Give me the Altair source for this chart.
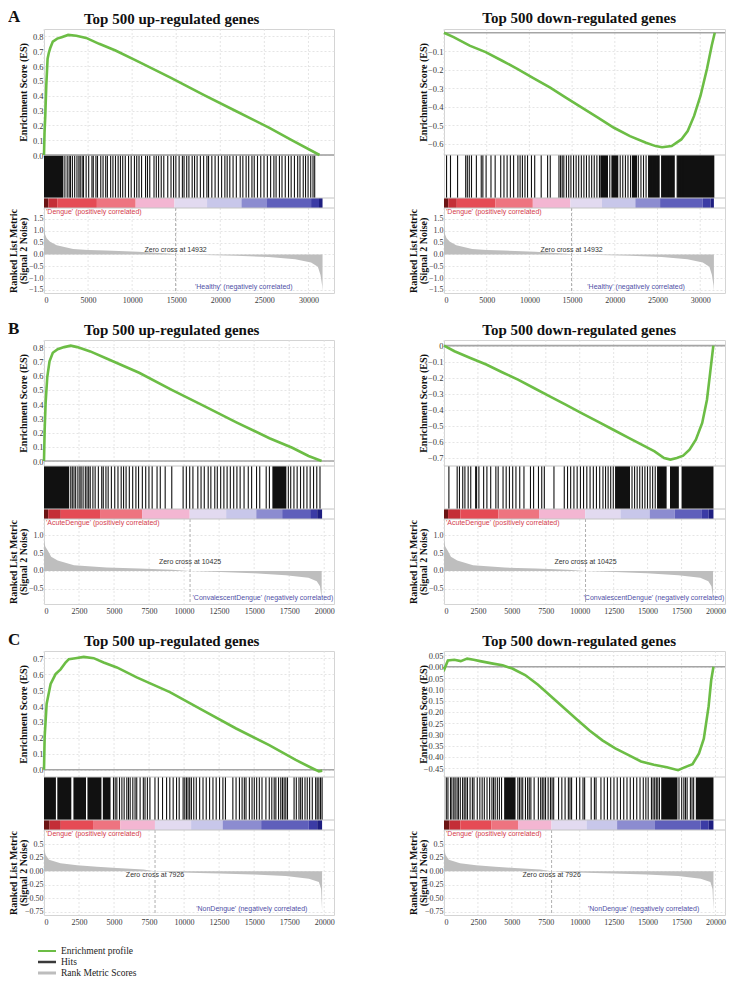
import altair as alt
import pandas as pd

SERIF = "Liberation Serif"
SANS = "Liberation Sans"
GREEN = "#6cbd45"
RED = "#d43c4c"
BLUE = "#4f4fa6"
GRID = "#dedede"

# ---------------- text / row data ----------------
ROW_LETTERS = ["A", "B", "C"]
PANEL_TITLES = ["Top 500 up-regulated genes", "Top 500 down-regulated genes"]
POS_LABELS = ["'Dengue' (positively correlated)",
              "'AcuteDengue' (positively correlated)",
              "'Dengue' (positively correlated)"]
NEG_LABELS = ["'Healthy' (negatively correlated)",
              "'ConvalescentDengue' (negatively correlated)",
              "'NonDengue' (negatively correlated)"]
ZERO_CROSS = [14932, 10425, 7926]
X_MAX = [32900, 20700, 20700]
X_TICKS_A = [0, 5000, 10000, 15000, 20000, 25000, 30000]
X_TICKS_BC = [0, 2500, 5000, 7500, 10000, 12500, 15000, 17500, 20000]
NEG_LABEL_END = [28200, 20650, 18800]

# ---------------- enrichment score curves ----------------
A_UP_X = [0, 60, 148, 260, 407, 550, 700, 1000, 1500, 2000, 2741, 3667, 4778, 6259, 8111,
          10704, 14407, 18111, 21815, 25519, 28100, 31259]
A_UP_Y = [0, 0.15, 0.27, 0.47, 0.65, 0.69, 0.72, 0.765, 0.785, 0.795, 0.81, 0.805, 0.79, 0.75,
          0.705, 0.63, 0.52, 0.405, 0.295, 0.185, 0.10, 0.0]
A_DN_X = [0, 1127, 3004, 4880, 6758, 8635, 10512, 12389, 14266, 16143, 18021, 19898, 21775,
          23652, 24778, 25529, 26656, 27781, 28533, 29283, 30034, 30785, 31348, 31700]
A_DN_Y = [0, -0.024, -0.07, -0.105, -0.15, -0.196, -0.246, -0.295, -0.35, -0.404, -0.458,
          -0.513, -0.558, -0.594, -0.612, -0.618, -0.612, -0.576, -0.531, -0.449, -0.34,
          -0.196, -0.069, 0]
B_UP_X = [0, 47, 116, 233, 395, 628, 977, 1442, 1907, 2372, 3302, 4465, 6791, 9116, 11442,
          13767, 16093, 17721, 18884, 19814]
B_UP_Y = [0, 0.22, 0.41, 0.59, 0.70, 0.76, 0.785, 0.80, 0.81, 0.80, 0.77, 0.72, 0.62, 0.50,
          0.385, 0.27, 0.16, 0.093, 0.035, 0.0]
B_DN_X = [0, 772, 1941, 3112, 4282, 5451, 6621, 7791, 8961, 10131, 11301, 12470, 13640, 14810,
          15512, 16214, 16682, 17150, 17618, 18086, 18553, 19021, 19372, 19606, 19840]
B_DN_Y = [0, -0.035, -0.077, -0.118, -0.166, -0.212, -0.264, -0.316, -0.368, -0.42, -0.472,
          -0.524, -0.576, -0.628, -0.659, -0.70, -0.71, -0.70, -0.686, -0.649, -0.586, -0.482,
          -0.337, -0.17, 0]
C_UP_X = [0, 47, 189, 473, 827, 1182, 1537, 1773, 2246, 2837, 3546, 4255, 5201, 6619, 8983,
          11348, 13712, 16076, 17967, 19149, 19622, 19858]
C_UP_Y = [0, 0.207, 0.414, 0.538, 0.60, 0.63, 0.673, 0.694, 0.70, 0.708, 0.70, 0.673, 0.642,
          0.58, 0.487, 0.373, 0.259, 0.155, 0.062, 0.01, -0.01, -0.005]
C_DN_X = [0, 47, 285, 759, 1233, 1708, 2182, 2656, 3605, 4317, 5028, 5977, 6925, 7874, 8823,
          9771, 10720, 11669, 12618, 13566, 14515, 15463, 16412, 17242, 17717, 18309, 18784,
          19140, 19495, 19685, 19850]
C_DN_Y = [0, -0.008, 0.028, 0.031, 0.025, 0.036, 0.031, 0.025, 0.014, 0.0065, -0.008, -0.037,
          -0.080, -0.131, -0.182, -0.233, -0.283, -0.327, -0.363, -0.392, -0.421, -0.436,
          -0.447, -0.46, -0.447, -0.433, -0.385, -0.32, -0.175, -0.059, 0.0]

ES_DOMAIN = [[[0, 0.85], [-0.66, 0.02]],
             [[-0.035, 0.85], [-0.75, 0.035]],
             [[-0.045, 0.745], [-0.49, 0.07]]]
ES_TICKS = [[[0.0, 0.1, 0.2, 0.3, 0.4, 0.5, 0.6, 0.7, 0.8], [-0.6, -0.5, -0.4, -0.3, -0.2, -0.1]],
            [[0.0, 0.1, 0.2, 0.3, 0.4, 0.5, 0.6, 0.7, 0.8], [-0.7, -0.6, -0.5, -0.4, -0.3, -0.2, -0.1, 0.0]],
            [[0.0, 0.1, 0.2, 0.3, 0.4, 0.5, 0.6, 0.7],
             [0.05, 0.0, -0.05, -0.1, -0.15, -0.2, -0.25, -0.3, -0.35, -0.4, -0.45]]]
ES_FORMAT = [[".1f", ".1f"], [".1f", ".1~f"], [".1f", ".2f"]]

# ---------------- hits (gene-set member positions) ----------------
A_UP_HITS = [2370, 2630, 2850, 3000, 3220, 3480, 3740, 3960, 4110, 4330, 4480, 4780, 5070, 5440,
             5590, 5890, 6070, 6440, 6700, 7000, 7190, 7560, 7820, 8110, 8410, 8670, 8930, 9220,
             9590, 9890, 10260, 10520, 10780, 11070, 11520, 11740, 12000, 12480, 12740, 13000,
             13300, 13590, 14040, 14410, 14700, 14960, 15330, 15700, 15890, 16190, 16440, 16810,
             17080, 17370, 17740, 18110, 18480, 18670, 19040, 19410, 19780, 20150, 20520, 20780,
             21080, 21450, 21820, 22260, 22560, 22930, 23220, 23590, 23850, 24220, 24590, 24960,
             25340, 25710, 26080, 26330, 26710, 27000, 27370, 27740, 28040, 28410, 28780, 29040,
             29410, 29670, 29960, 30260, 30520, 30710]
A_UP_BLOCK_START = [0]
A_UP_BLOCK_END = [2200]
A_DN_HITS = [300, 760, 1590, 2540, 2730, 2960, 3220, 3790, 4360, 4550, 4930, 5500, 5990, 6640,
             7020, 7390, 7770, 8150, 8650, 8910, 9180, 9480, 9780, 10240, 10620, 11380, 12130,
             12440, 13460, 13650, 13840, 14030, 14330, 14600, 14860, 15170, 15470, 15770, 16080,
             16380, 16680, 16990, 17290, 17590, 17900, 18200, 18500, 18810, 19110, 19410, 19720,
             20020, 20320, 20630, 20930, 21240, 21540, 21840, 22150, 22450, 22750, 23060, 23360,
             23660, 23970, 24270, 24570, 24880, 25180, 25480, 25790, 26170, 26540, 26920, 27300,
             27680, 27990]
A_DN_BLOCK_START = [18300, 19600, 22000, 23900, 25500, 27300]
A_DN_BLOCK_END = [19200, 20400, 22600, 25200, 27000, 31650]
B_UP_HITS = [1910, 2020, 2140, 2260, 2420, 2560, 2650, 2790, 2950, 3070, 3190, 3300, 3490, 3650,
             3880, 4120, 4230, 4420, 4580, 4810, 5050, 5280, 5510, 5680, 5860, 6090, 6330, 6560,
             6750, 7020, 7260, 7490, 7720, 8070, 8300, 8650, 9120, 9930, 10160, 10400, 10630,
             10980, 11210, 11440, 11720, 11910, 12190, 12370, 12610, 12840, 13070, 13300, 13540,
             13770, 14000, 14280, 14580, 14820, 15170, 15400, 15860, 16090, 17440, 17610, 17840,
             18070, 18310, 18540, 18770, 19000, 19240, 19470, 19700]
B_UP_BLOCK_START = [0, 16300]
B_UP_BLOCK_END = [1800, 17300]
B_DN_HITS = [360, 970, 1140, 1380, 1540, 1780, 1970, 2330, 2400, 2570, 2920, 3160, 3440, 3820,
             3990, 4350, 4580, 4820, 5060, 5300, 5580, 5890, 6370, 6600, 6960, 7200, 7390, 8100,
             8860, 9100, 9330, 9570, 9810, 10050, 10280, 10520, 10760, 11000, 11230, 11470,
             11710, 11900, 12090, 12280, 12470, 13850, 14040, 14230, 14420, 14610, 14800, 14990,
             15180, 15370, 15560, 15750, 15980]
B_DN_BLOCK_START = [12600, 15700, 16650, 17500]
B_DN_BLOCK_END = [13700, 16400, 17300, 19850]
C_UP_HITS = [4960, 5080, 5200, 5390, 5560, 5720, 5910, 6030, 6150, 6340, 6500, 6620, 6860, 7090,
             7210, 7380, 7560, 7920, 8160, 8460, 8750, 8980, 9220, 9460, 9650, 9930, 10050,
             10170, 10280, 10400, 10520, 10690, 10870, 11110, 11350, 11580, 11820, 12060, 12290,
             12530, 12770, 12950, 13480, 13710, 13950, 14140, 14300, 14420, 14660, 14850, 15010,
             15180, 15370, 15560, 15840, 16080, 16260, 16430, 16550, 16740, 16900, 17020, 17140,
             17260, 17380, 17850, 18010, 18200, 18320, 18440, 18630, 18790, 18960, 19150, 19390,
             19500, 19620, 19740, 19850]
C_UP_BLOCK_START = [0, 950, 2100, 3100, 4200]
C_UP_BLOCK_END = [850, 1950, 3000, 4100, 4750]
C_DN_HITS = [170, 290, 480, 580, 720, 820, 960, 1060, 1200, 1370, 1490, 1610, 1730, 1920, 2090,
             2210, 2450, 2640, 2810, 2970, 3170, 3360, 3530, 3650, 3770, 3930, 4080, 4240, 5440,
             5560, 5680, 5800, 6000, 6160, 6280, 6400, 6640, 6950, 7120, 7240, 7360, 7480, 7670,
             7840, 7960, 8080, 8440, 8680, 8920, 9160, 9280, 9400, 9760, 10000, 10240, 10360,
             10840, 11080, 11200, 11560, 11800, 12040, 12280, 12520, 12760, 13000, 13240, 13480,
             13720, 13960, 14200, 14440, 14680, 14870, 15040, 15280, 15400, 15520, 15640, 15750,
             15870, 17310, 17510, 17670, 17790, 17910, 18150, 18270, 18390]
C_DN_BLOCK_START = [4430, 16000, 18550]
C_DN_BLOCK_END = [5270, 17200, 19850]

# ---------------- ranked list metric ----------------
A_RANK_X = [0, 40, 120, 300, 700, 1440, 3300, 5000, 7000, 10700, 12500, 14400, 14932, 18100,
            21800, 25500, 28500, 30300, 31070, 31370, 31550, 31600]
A_RANK_Y = [1.25, 1.05, 0.85, 0.68, 0.53, 0.39, 0.225, 0.19, 0.16, 0.11, 0.07, 0.03, 0.0, -0.03,
            -0.06, -0.11, -0.2, -0.34, -0.52, -0.87, -1.3, -1.55]
B_RANK_X = [0, 100, 300, 510, 977, 2140, 4465, 6790, 9116, 10425, 12600, 14930, 17260, 18880,
            19470, 19700, 19820]
B_RANK_Y = [0.85, 0.68, 0.55, 0.40, 0.29, 0.16, 0.095, 0.067, 0.03, 0.0, -0.03, -0.067, -0.124,
            -0.19, -0.29, -0.43, -0.76]
C_RANK_X = [0, 118, 355, 1182, 2364, 3783, 5201, 7092, 7926, 8983, 12530, 14894, 17258, 18913,
            19622, 19780, 19850]
C_RANK_Y = [0.42, 0.30, 0.21, 0.144, 0.11, 0.08, 0.06, 0.03, 0.0, -0.02, -0.045, -0.06, -0.09,
            -0.14, -0.2, -0.33, -0.73]
RANK_DOMAIN = [[-1.63, 1.96], [-0.93, 1.46], [-0.81, 0.76]]
RANK_TICKS = [[-1.5, -1.0, -0.5, 0.0, 0.5, 1.0, 1.5], [-0.5, 0.0, 0.5, 1.0],
              [-0.75, -0.5, -0.25, 0.0, 0.25, 0.5]]

# ---------------- ranked-list colour bar (segment edges & shade level) ----------------
A_BAR_EDGES = [0, 500, 1500, 6000, 10400, 14800, 18500, 22400, 25300, 30300, 31200, 31600]
B_BAR_EDGES = [0, 300, 1200, 4000, 7000, 10400, 13000, 15150, 17000, 19000, 19500, 19850]
C_BAR_EDGES = [0, 400, 1200, 3500, 5450, 7920, 10500, 12750, 15500, 18900, 19500, 19850]
BAR_LEVELS = [0, 1, 2, 3, 4, 5, 6, 7, 8, 9, 10]
BAR_COLORS = ["#6b1414", "#c42e37", "#e54b55", "#ee7480", "#f3b6d2", "#e2daf0", "#c8c7ea",
              "#8c8cd0", "#5f5fbb", "#3b3ba5", "#1e1e80"]

LEGEND_LABELS = ["Enrichment profile", "Hits", "Rank Metric Scores"]
LEGEND_COLORS = [GREEN, "#3a3a3a", "#bdbdbd"]

# ---------------- assembly tables ----------------
ES_X = [[A_UP_X, A_DN_X], [B_UP_X, B_DN_X], [C_UP_X, C_DN_X]]
ES_Y = [[A_UP_Y, A_DN_Y], [B_UP_Y, B_DN_Y], [C_UP_Y, C_DN_Y]]
HITS = [[A_UP_HITS, A_DN_HITS], [B_UP_HITS, B_DN_HITS], [C_UP_HITS, C_DN_HITS]]
BLK_S = [[A_UP_BLOCK_START, A_DN_BLOCK_START], [B_UP_BLOCK_START, B_DN_BLOCK_START],
         [C_UP_BLOCK_START, C_DN_BLOCK_START]]
BLK_E = [[A_UP_BLOCK_END, A_DN_BLOCK_END], [B_UP_BLOCK_END, B_DN_BLOCK_END],
         [C_UP_BLOCK_END, C_DN_BLOCK_END]]
RANK_X = [A_RANK_X, B_RANK_X, C_RANK_X]
RANK_Y = [A_RANK_Y, B_RANK_Y, C_RANK_Y]
BAR_EDGES = [A_BAR_EDGES, B_BAR_EDGES, C_BAR_EDGES]
X_TICKS = [X_TICKS_A, X_TICKS_BC, X_TICKS_BC]
ZC_DY = [-4, -9, 4]

# ---------------- layout (pixels) ----------------
W = [290, 281]
Y_ES0, Y_ES1, Y_HIT1, Y_BAR1, Y_RK1 = 0, 126, 169, 179, 264
LEG_Y = [300, 322]
H_SP = 72
V_SP = 15
TITLE_DX = [0, 12]


def one():
    return pd.DataFrame({"k": [0]})


def panel(r, s):
    xs = alt.Scale(domain=[0, X_MAX[r]], nice=False, zero=False)
    xaxis = alt.Axis(values=X_TICKS[r], format="d", title=None, grid=False, labelPadding=3,
                     labelFontSize=8)

    def xq(f):
        return alt.X(f, scale=xs, axis=xaxis)

    ticks_df = pd.DataFrame({"t": X_TICKS[r]})
    es_vgrid = alt.Chart(ticks_df).mark_rule(color=GRID, strokeDash=[2, 2], strokeWidth=0.8).encode(
        x=xq("t:Q"), y=alt.value(Y_ES0), y2=alt.value(Y_ES1))
    rk_vgrid = alt.Chart(ticks_df).mark_rule(color=GRID, strokeDash=[2, 2], strokeWidth=0.8).encode(
        x=xq("t:Q"), y=alt.value(Y_BAR1), y2=alt.value(Y_RK1))

    # --- enrichment score ---
    ys_es = alt.Scale(domain=ES_DOMAIN[r][s], range=[Y_ES1, Y_ES0], nice=False, zero=False)
    es_axis = alt.Axis(orient="left", values=ES_TICKS[r][s], format=ES_FORMAT[r][s],
                       title="Enrichment Score (ES)", grid=True, minExtent=15, maxExtent=15)
    es_df = pd.DataFrame({"rank": ES_X[r][s], "es": ES_Y[r][s]})
    zero = alt.Chart(pd.DataFrame({"es": [0.0]})).mark_rule(color="#a5a5a5", strokeWidth=1.6).encode(
        y=alt.Y("es:Q", scale=ys_es, axis=es_axis))
    line = alt.Chart(es_df).mark_line(color=GREEN, strokeWidth=2.6).encode(
        x=xq("rank:Q"), y=alt.Y("es:Q", scale=ys_es, axis=es_axis))
    es_layer = alt.layer(zero, line)

    # --- hits ---
    blocks = pd.DataFrame({"start": BLK_S[r][s], "end": BLK_E[r][s]})
    hits_b = alt.Chart(blocks).mark_rect(color="#111").encode(
        x=xq("start:Q"), x2="end:Q", y=alt.value(Y_ES1), y2=alt.value(Y_HIT1))
    hits_l = alt.Chart(pd.DataFrame({"pos": HITS[r][s]})).mark_rule(color="#111", strokeWidth=1.1).encode(
        x=xq("pos:Q"), y=alt.value(Y_ES1), y2=alt.value(Y_HIT1))

    # --- colour bar ---
    e = BAR_EDGES[r]
    bar = alt.Chart(pd.DataFrame({"start": e[:-1], "end": e[1:], "level": BAR_LEVELS})).mark_rect().encode(
        x=xq("start:Q"), x2="end:Q", y=alt.value(Y_HIT1), y2=alt.value(Y_BAR1),
        fill=alt.Fill("level:O", scale=alt.Scale(domain=BAR_LEVELS, range=BAR_COLORS), legend=None))

    seps = [alt.Chart(one()).mark_rule(color="#c4c4c4", strokeWidth=1).encode(y=alt.value(v))
            for v in (Y_ES1, Y_HIT1, Y_BAR1)]

    # --- ranked list metric ---
    ys_rk = alt.Scale(domain=RANK_DOMAIN[r], range=[Y_RK1, Y_BAR1], nice=False, zero=False)
    ykw = dict(orient="left", values=RANK_TICKS[r], title=["Ranked List Metric", "(Signal 2 Noise)"],
               grid=True, minExtent=15, maxExtent=15, titleLineHeight=9.5, labelFontSize=8)
    if r == 2:
        ykw["labelExpr"] = ("datum.value == 0.5 ? '0.5' : datum.value == 0.25 ? '0.25' : "
                            "format(datum.value, '.2f')")
    else:
        ykw["format"] = ".1f"
    rk_axis = alt.Axis(**ykw)
    rk_df = pd.DataFrame({"rank": RANK_X[r], "metric": RANK_Y[r]})
    rk_df["base"] = 0.0
    area = alt.Chart(rk_df).mark_area(color="#bebebe").encode(
        x=xq("rank:Q"), y=alt.Y("metric:Q", scale=ys_rk, axis=rk_axis), y2="base:Q")
    zc = pd.DataFrame({"zc": [ZERO_CROSS[r]], "metric": [0.0],
                       "label": ["Zero cross at " + str(ZERO_CROSS[r])]})
    zline = alt.Chart(zc).mark_rule(color="#9a9a9a", strokeDash=[3, 2], strokeWidth=0.8).encode(
        x=xq("zc:Q"), y=alt.value(Y_BAR1), y2=alt.value(Y_RK1))
    ztext = alt.Chart(zc).mark_text(font=SANS, fontSize=7, color="#333", dy=ZC_DY[r]).encode(
        x=xq("zc:Q"), y=alt.Y("metric:Q", scale=ys_rk, axis=rk_axis), text="label:N")
    rank_layer = alt.layer(area, ztext)
    pos = alt.Chart(pd.DataFrame({"t": [POS_LABELS[r]]})).mark_text(
        font=SANS, fontSize=7, color=RED, align="left", baseline="middle").encode(
        x=alt.value(2), y=alt.value(Y_BAR1 + 4), text="t:N")
    neg = alt.Chart(pd.DataFrame({"t": [NEG_LABELS[r]], "x": [NEG_LABEL_END[r]]})).mark_text(
        font=SANS, fontSize=7, color=BLUE, align="right", baseline="middle").encode(
        x=xq("x:Q"), y=alt.value(Y_RK1 - 6), text="t:N")

    layers = [es_vgrid, rk_vgrid, rank_layer, zline, pos, neg, hits_b, hits_l, bar] + seps + [es_layer]

    if r == 2 and s == 0:
        leg_df = pd.DataFrame({"label": LEGEND_LABELS})
        ly = alt.Y("label:N", sort=LEGEND_LABELS, axis=None,
                   scale=alt.Scale(type="point", domain=LEGEND_LABELS, range=LEG_Y, padding=0))
        leg_rules = alt.Chart(leg_df).mark_rule().encode(
            y=ly, x=alt.value(-6), x2=alt.value(12),
            stroke=alt.Stroke("label:N", scale=alt.Scale(domain=LEGEND_LABELS, range=LEGEND_COLORS),
                              legend=None),
            strokeWidth=alt.StrokeWidth("label:O", scale=alt.Scale(domain=LEGEND_LABELS, range=[2, 3, 2]),
                                        legend=None))
        leg_text = alt.Chart(leg_df).mark_text(font=SERIF, fontSize=9.5, align="left", baseline="middle",
                                               color="#222").encode(y=ly, x=alt.value(17), text="label:N")
        layers.append(alt.layer(leg_rules, leg_text))

    return alt.layer(*layers).resolve_scale(y="independent").properties(
        width=W[s], height=Y_RK1,
        title=alt.TitleParams(PANEL_TITLES[s], frame="bounds", anchor="middle", dx=TITLE_DX[s]))


rows = [alt.hconcat(panel(r, 0), panel(r, 1), spacing=H_SP,
                    title=alt.TitleParams(ROW_LETTERS[r], anchor="start", frame="bounds", offset=-16,
                                          fontSize=17, font=SERIF, fontWeight="bold"))
        for r in range(3)]

chart = alt.vconcat(*rows, spacing=V_SP).properties(
    padding={"left": 0, "top": 0, "right": 2, "bottom": 2}
).configure_view(stroke="#d4d4d4", strokeWidth=1).configure_axis(
    labelFont=SERIF, labelFontSize=8.5, labelColor="#3a3a3a", titleFont=SERIF, titleFontSize=10,
    titleFontWeight="bold", titleColor="#111", ticks=False, domain=False, gridColor=GRID,
    gridDash=[2, 2], gridWidth=0.8, labelPadding=1, titlePadding=1
).configure_title(font=SERIF, fontSize=15, fontWeight="bold", color="#111", offset=2)

chart.save("out.html", embed_options={"renderer": "svg", "actions": False})
